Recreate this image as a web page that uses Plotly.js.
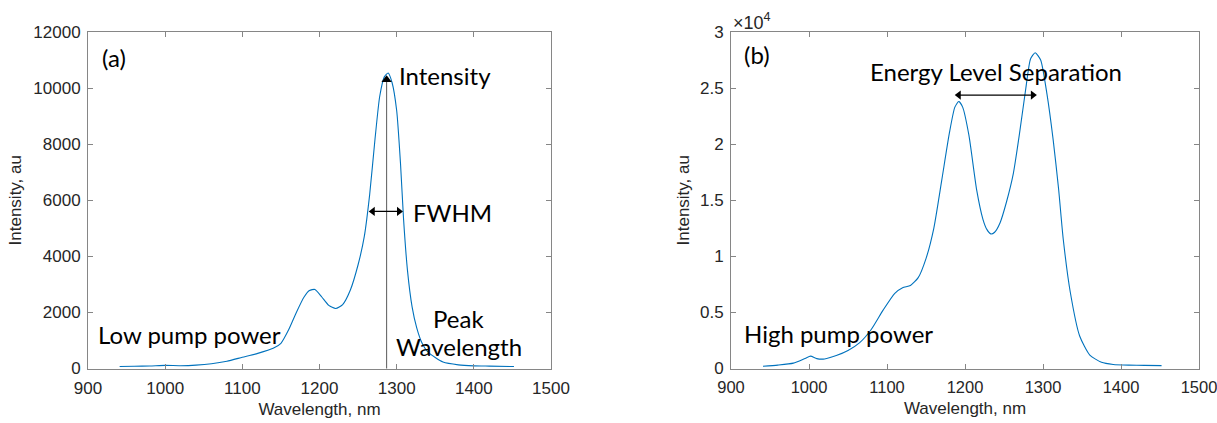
<!DOCTYPE html>
<html>
<head>
<meta charset="utf-8">
<script src="https://cdn.plot.ly/plotly-3.0.1.min.js"></script>
<style>html,body{margin:0;padding:0;background:#fff;overflow:hidden;}#chart{width:1232px;height:423px;}</style>
</head>
<body>
<div id="chart"></div>
<script>
// ---- Data ----
const lowWavelength = [941, 960, 980, 1000, 1020, 1040, 1060, 1080, 1100, 1120, 1140, 1150, 1160, 1170, 1180, 1187, 1194, 1203, 1212, 1221, 1230, 1240, 1250, 1258, 1265, 1272, 1278, 1284, 1289, 1294, 1300, 1305, 1309, 1314, 1320, 1326, 1333, 1340, 1350, 1360, 1380, 1400, 1420, 1452];
const lowIntensity  = [70, 80, 90, 110, 100, 120, 170, 260, 400, 540, 720, 900, 1380, 2000, 2550, 2780, 2820, 2550, 2250, 2140, 2280, 2800, 3700, 4700, 6200, 8200, 9700, 10400, 10540, 10200, 9200, 7300, 5300, 3500, 2200, 1450, 900, 600, 390, 230, 130, 95, 85, 70];

const highWavelength = [941, 960, 980, 995, 1002, 1010, 1020, 1035, 1050, 1065, 1080, 1095, 1110, 1120, 1130, 1140, 1150, 1160, 1170, 1180, 1187, 1192, 1197, 1205, 1215, 1223, 1228, 1233, 1238, 1245, 1253, 1262, 1270, 1278, 1284, 1290, 1297, 1305, 1313, 1320, 1326, 1335, 1347, 1360, 1375, 1390, 1410, 1430, 1452];
const highIntensity  = [200, 300, 480, 900, 1100, 880, 850, 1150, 1600, 2300, 3500, 5200, 6700, 7200, 7400, 8100, 9800, 12500, 16700, 21000, 23300, 23800, 23300, 20800, 15900, 13300, 12400, 12000, 12150, 13000, 14800, 17400, 21000, 25000, 27600, 28150, 27500, 24500, 20400, 16000, 11500, 6800, 2900, 1200, 550, 360, 300, 280, 260];

const xTicks = [900, 1000, 1100, 1200, 1300, 1400, 1500];
const yTicksLow = [0, 2000, 4000, 6000, 8000, 10000, 12000];
const yTickTextLow = ['0', '2000', '4000', '6000', '8000', '10000', '12000'];
const yTicksHigh = [0, 5000, 10000, 15000, 20000, 25000, 30000];
const yTickTextHigh = ['0', '0.5', '1', '1.5', '2', '2.5', '3'];

// annotation anchors (data units)
const peakWavelength = 1287;
const peakMarkerIntensity = 10300;
const fwhmLevel = 5600;
const fwhmEnds = [1269, 1303];
const sepLevel = 24380;
const sepEnds = [1192, 1287];

// ---- Styles ----
const lineColor = '#0072BD';
const axisColor = '#868686';
const tickFontColor = '#262626';
const axisFont = {family: 'Liberation Sans, Arial, sans-serif', size: 17, color: tickFontColor};
const noteFont = {family: 'Lato, sans-serif', size: 24, color: '#000'};

const W = 1232, H = 423;
const px2fx = p => p / W;
const py2fy = p => (H - p) / H;

const arrowTrace = (xs, level, xa, ya) => ({
  x: xs, y: [level, level], type: 'scatter', mode: 'lines+markers',
  line: {color: '#000', width: 1.2},
  marker: {symbol: ['triangle-left', 'triangle-right'], size: 8, color: '#000'},
  xaxis: xa, yaxis: ya, hoverinfo: 'skip'
});

const traces = [
  {x: lowWavelength, y: lowIntensity, type: 'scatter', mode: 'lines', line: {color: lineColor, width: 1.1, shape: 'spline', smoothing: 0.6}, xaxis: 'x', yaxis: 'y', name: 'Low pump power'},
  {x: [peakWavelength, peakWavelength], y: [-80, peakMarkerIntensity], type: 'scatter', mode: 'lines', line: {color: '#5a5a5a', width: 1}, xaxis: 'x', yaxis: 'y', cliponaxis: false, hoverinfo: 'skip'},
  {x: [peakWavelength], y: [peakMarkerIntensity], type: 'scatter', mode: 'markers', marker: {symbol: 'triangle-up', size: 9, color: '#000'}, xaxis: 'x', yaxis: 'y', hoverinfo: 'skip'},
  arrowTrace(fwhmEnds, fwhmLevel, 'x', 'y'),
  {x: highWavelength, y: highIntensity, type: 'scatter', mode: 'lines', line: {color: lineColor, width: 1.1, shape: 'spline', smoothing: 0.6}, xaxis: 'x2', yaxis: 'y2', name: 'High pump power'},
  arrowTrace(sepEnds, sepLevel, 'x2', 'y2')
];

const axBase = {
  showgrid: false, zeroline: false, showline: true, linecolor: axisColor, linewidth: 1,
  mirror: 'ticks', ticks: 'inside', ticklen: 5, tickcolor: axisColor, tickwidth: 1,
  tickfont: axisFont, fixedrange: true, ticklabeloverflow: 'allow'
};

const yDom = [py2fy(368.5), py2fy(32)];

const layout = {
  width: W, height: H,
  margin: {l: 0, r: 0, t: 0, b: 0},
  paper_bgcolor: '#fff', plot_bgcolor: '#fff',
  showlegend: false,
  xaxis: Object.assign({}, axBase, {domain: [px2fx(88), px2fx(551)], range: [900, 1500], tickvals: xTicks, anchor: 'y', ticklabelstandoff: 4,
    title: {text: 'Wavelength, nm', font: axisFont, standoff: 6}}),
  yaxis: Object.assign({}, axBase, {domain: yDom, range: [0, 12000], tickvals: yTicksLow, ticktext: yTickTextLow, anchor: 'x', ticklabelstandoff: 3,
    title: {text: 'Intensity, au', font: axisFont, standoff: 7}}),
  xaxis2: Object.assign({}, axBase, {domain: [px2fx(731), px2fx(1199)], range: [900, 1500], tickvals: xTicks, anchor: 'y2', ticklabelstandoff: 4,
    tickfont: Object.assign({}, axisFont, {size: 16.5}),
    title: {text: 'Wavelength, nm', font: axisFont, standoff: 6}}),
  yaxis2: Object.assign({}, axBase, {domain: yDom, range: [0, 30000], tickvals: yTicksHigh, ticktext: yTickTextHigh, anchor: 'x2', ticklabelstandoff: 3,
    title: {text: 'Intensity, au', font: axisFont, standoff: 6}}),
  annotations: [
    {xref: 'x', yref: 'y', x: 915.5, y: 11108, text: '(a)', showarrow: false, xanchor: 'left', yanchor: 'middle', font: noteFont},
    {xref: 'x', yref: 'y', x: 1300.5, y: 10466, text: 'Intensity', showarrow: false, xanchor: 'left', yanchor: 'middle', font: noteFont},
    {xref: 'x', yref: 'y', x: 1318, y: 5581, text: 'FWHM', showarrow: false, xanchor: 'left', yanchor: 'middle', font: noteFont},
    {xref: 'x', yref: 'y', x: 910, y: 1230, text: 'Low pump power', showarrow: false, xanchor: 'left', yanchor: 'middle', font: noteFont},
    {xref: 'x', yref: 'y', x: 1380, y: 1801, text: 'Peak', showarrow: false, xanchor: 'center', yanchor: 'middle', font: noteFont},
    {xref: 'x', yref: 'y', x: 1380.5, y: 767, text: 'Wavelength', showarrow: false, xanchor: 'center', yanchor: 'middle', font: noteFont},
    {xref: 'x2', yref: 'y2', x: 914.1, y: 27950, text: '(b)', showarrow: false, xanchor: 'left', yanchor: 'middle', font: noteFont},
    {xref: 'x2', yref: 'y2', x: 1075, y: 26522, text: 'Energy Level Separation', showarrow: false, xanchor: 'left', yanchor: 'middle', font: noteFont},
    {xref: 'x2', yref: 'y2', x: 914, y: 3160, text: 'High pump power', showarrow: false, xanchor: 'left', yanchor: 'middle', font: noteFont},
    {xref: 'x2 domain', yref: 'y2 domain', x: 0, y: 1, xanchor: 'left', yanchor: 'bottom', yshift: -3, text: '\u00d710<sup>4</sup>', showarrow: false, font: {family: 'Liberation Sans, Arial, sans-serif', size: 18, color: tickFontColor}}
  ]
};

Plotly.newPlot('chart', traces, layout, {staticPlot: true, displayModeBar: false});
</script>
</body>
</html>
